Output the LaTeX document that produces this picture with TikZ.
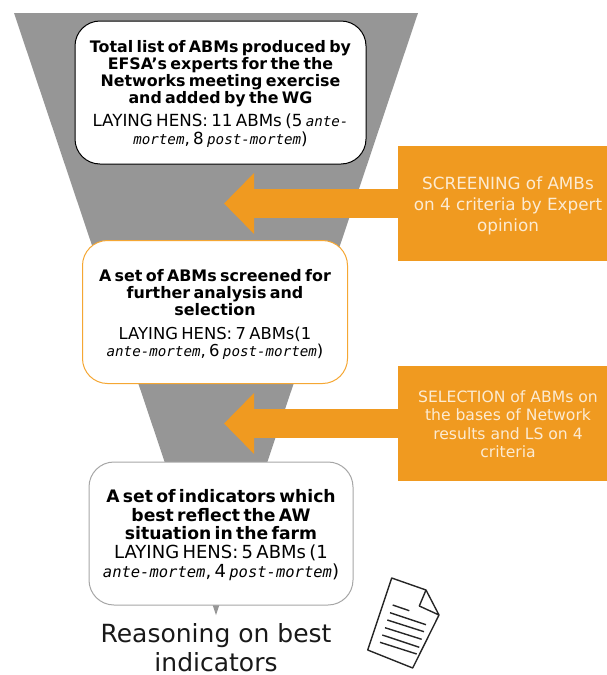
\documentclass[tikz,border=0pt]{standalone}
\usepackage{fontspec}
\setmainfont{DejaVu Sans}
\newfontfamily\monoface{DejaVu Sans Mono}
\usetikzlibrary{arrows.meta}
\definecolor{funnelgrey}{HTML}{969696}
\definecolor{orangefill}{HTML}{F09A20}
\definecolor{orangeline}{HTML}{F5A733}
\definecolor{creamtext}{HTML}{FCEBD2}
\definecolor{softline}{HTML}{A6A6A6}
\tikzset{
  x=1pt,y=-1pt,
  listbox/.style={draw,fill=white,rounded corners=25pt,align=center,inner sep=0pt,text=black,text width=262pt},
  sidebox/.style={fill=orangefill,inner sep=0pt,minimum width=209pt,minimum height=115pt},
  sidelabel/.style={text=creamtext,align=center,inner sep=0pt},
  sidearrow/.style={draw=orangefill,line width=29.5pt,-{Triangle[length=30pt,width=59pt,fill=orangefill]}}
}
\newcommand{\boxhead}[3]{{\fontsize{#1}{#2}\selectfont\bfseries #3\par}}
\newcommand{\boxbody}[4]{{\def\itsz{#2}\fontsize{#1}{#3}\selectfont #4\par}}
\newcommand{\morit}[1]{{\monoface\fontsize{\itsz}{10}\selectfont\itshape #1}}
\begin{document}
\begin{tikzpicture}
\useasboundingbox (0,0) rectangle (607,675);
\fill[funnelgrey] (14,13) -- (418,13) -- (216,615) -- cycle;
\node[listbox,draw=black,line width=1pt,minimum width=291pt,minimum height=143pt,text width=280pt] (total) at (220.5,92.5)
  {\boxhead{15.85}{17}{\rule{0pt}{15pt}Total list of ABMs produced by\\EFSA’s experts for the the\\Networks meeting exercise\\and added by the WG}\vspace{5pt}
   \boxbody{16.7}{14.2}{18}{LAYING HENS: 11 ABMs (5 \morit{ante-}\\\morit{mortem}, 8 \morit{post-mortem})}};
\node[listbox,draw=orangeline,line width=1pt,minimum width=265pt,minimum height=143pt] (screened) at (215,312)
  {\boxhead{15.9}{17}{\rule{0pt}{17pt}A set of ABMs screened for\\further analysis and\\selection}\vspace{6pt}
   \boxbody{16.4}{14.2}{17.5}{LAYING HENS: 7 ABMs(1\\\morit{ante-mortem}, 6 \morit{post-mortem})}};
\node[listbox,draw=softline,line width=1pt,minimum width=264pt,minimum height=143pt] (best) at (221,533.5)
  {\boxhead{17.2}{18.5}{\rule{0pt}{16pt}A set of indicators which\\best reflect the AW\\situation in the farm}
   \boxbody{18}{15.5}{18.7}{LAYING HENS: 5 ABMs (1\\\morit{ante-mortem}, 4 \morit{post-mortem})}};
\node[sidebox] (screening) at (502.5,203.5) {};
\node[sidebox] (selection) at (502.5,423.5) {};
\node[sidelabel,font=\fontsize{16.8}{21}\selectfont] (screeninglabel) at (508,205.5)
  {SCREENING of AMBs\\on 4 criteria by Expert\\opinion};
\node[sidelabel,font=\fontsize{15.6}{18.5}\selectfont] (selectionlabel) at (508,424)
  {SELECTION of ABMs on\\the bases of Network\\results and LS on 4\\criteria};
\coordinate (screeningtip) at (224,203.5);
\coordinate (selectiontip) at (224,423.5);
\draw[sidearrow] (screening.west) -- (screeningtip);
\draw[sidearrow] (selection.west) -- (selectiontip);
\node[align=center,inner sep=0pt,font=\fontsize{25}{29}\selectfont,text=black!90] (reasoning) at (216,648)
  {Reasoning on best\\indicators};
\draw[line width=1.4pt,line join=round,black!85]
  (391.7,578) -- (426,590) -- (439,615) -- (412.7,668) -- (367.7,650) -- cycle
  (426,590) -- (419.3,606) -- (439,615);
\draw[line width=1.4pt,black!85]
  (392.7,605) -- (409.3,610.7)
  (390,612.7) -- (426,624.7)
  (387.3,620) -- (424,631.7)
  (385,627.7) -- (421.7,639.3)
  (382.3,635) -- (419.3,647.3)
  (380,642.3) -- (416.7,654);
\end{tikzpicture}
\end{document}
